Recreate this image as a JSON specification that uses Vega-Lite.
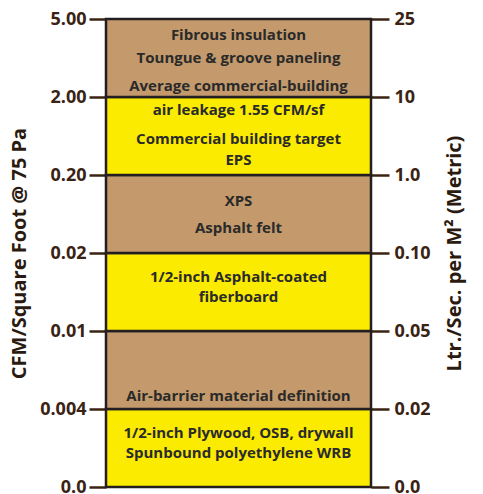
{
  "$schema": "https://vega.github.io/schema/vega-lite/v6.json",
  "width": 265,
  "height": 468,
  "autosize": {"type": "none"},
  "padding": {"left": 106, "top": 19, "right": 112, "bottom": 7},
  "background": "white",
  "config": {"view": {"stroke": null}},
  "layer": [
    {
      "data": {"values": [
        {"lo": 0, "hi": 1, "kind": "yellow"},
        {"lo": 1, "hi": 2, "kind": "tan"},
        {"lo": 2, "hi": 3, "kind": "yellow"},
        {"lo": 3, "hi": 4, "kind": "tan"},
        {"lo": 4, "hi": 5, "kind": "yellow"},
        {"lo": 5, "hi": 6, "kind": "tan"}
      ]},
      "mark": {"type": "rect", "stroke": "#231f20", "strokeWidth": 2.5},
      "encoding": {
        "y": {"field": "lo", "type": "quantitative", "scale": {"domain": [0, 6], "nice": false},
          "axis": {"orient": "left", "values": [0,1,2,3,4,5,6], "domain": false, "grid": false,
            "tickSize": 17, "tickWidth": 2.5, "tickColor": "#3b2314", "labelPadding": 3,
            "labelFont": "Open Sans", "labelFontWeight": "bold", "labelFontSize": 18, "labelColor": "#3b2314",
            "labelExpr": "[ '0.0','0.004','0.01','0.02','0.20','2.00','5.00'][datum.value]",
            "title": "CFM/Square Foot @ 75 Pa", "titleFont": "Open Sans", "titleFontSize": 20, "titleFontWeight": "bold",
            "titleColor": "#2b1a10", "titlePadding": 10}},
        "y2": {"field": "hi"},
        "color": {"field": "kind", "type": "nominal", "legend": null,
          "scale": {"domain": ["tan", "yellow"], "range": ["#C49A6C", "#FBEB00"]}}
      }
    },
    {
      "data": {"values": [
        {"pos": 5.795, "label": "Fibrous insulation"},
        {"pos": 5.5, "label": "Toungue & groove paneling"},
        {"pos": 5.14, "label": "Average commercial-building"},
        {"pos": 4.833, "label": "air leakage 1.55 CFM/sf"},
        {"pos": 4.462, "label": "Commercial building target"},
        {"pos": 4.192, "label": "EPS"},
        {"pos": 3.667, "label": "XPS"},
        {"pos": 3.321, "label": "Asphalt felt"},
        {"pos": 2.692, "label": "1/2-inch Asphalt-coated"},
        {"pos": 2.436, "label": "fiberboard"},
        {"pos": 1.167, "label": "Air-barrier material definition"},
        {"pos": 0.692, "label": "1/2-inch Plywood, OSB, drywall"},
        {"pos": 0.436, "label": "Spunbound polyethylene WRB"}
      ]},
      "mark": {"type": "text", "font": "Open Sans", "fontWeight": "bold", "fontSize": 15, "color": "#2a2a2a", "align": "center", "baseline": "middle"},
      "encoding": {
        "y": {"field": "pos", "type": "quantitative",
          "axis": {"orient": "right", "values": [0,1,2,3,4,5,6], "domain": false, "grid": false,
            "tickSize": 18, "tickWidth": 2.5, "tickColor": "#3b2314", "labelPadding": 5,
            "labelFont": "Open Sans", "labelFontWeight": "bold", "labelFontSize": 18, "labelColor": "#3b2314",
            "labelExpr": "[ '0.0','0.02','0.05','0.10','1.0','10','25'][datum.value]",
            "title": "Ltr./Sec. per M² (Metric)", "titleFont": "Open Sans", "titleFontSize": 20, "titleFontWeight": "bold",
            "titleAngle": 270, "titleBaseline": "top",
            "titleColor": "#2b1a10", "titlePadding": 14}},
        "text": {"field": "label"}
      }
    }
  ],
  "resolve": {"axis": {"y": "independent"}}
}
